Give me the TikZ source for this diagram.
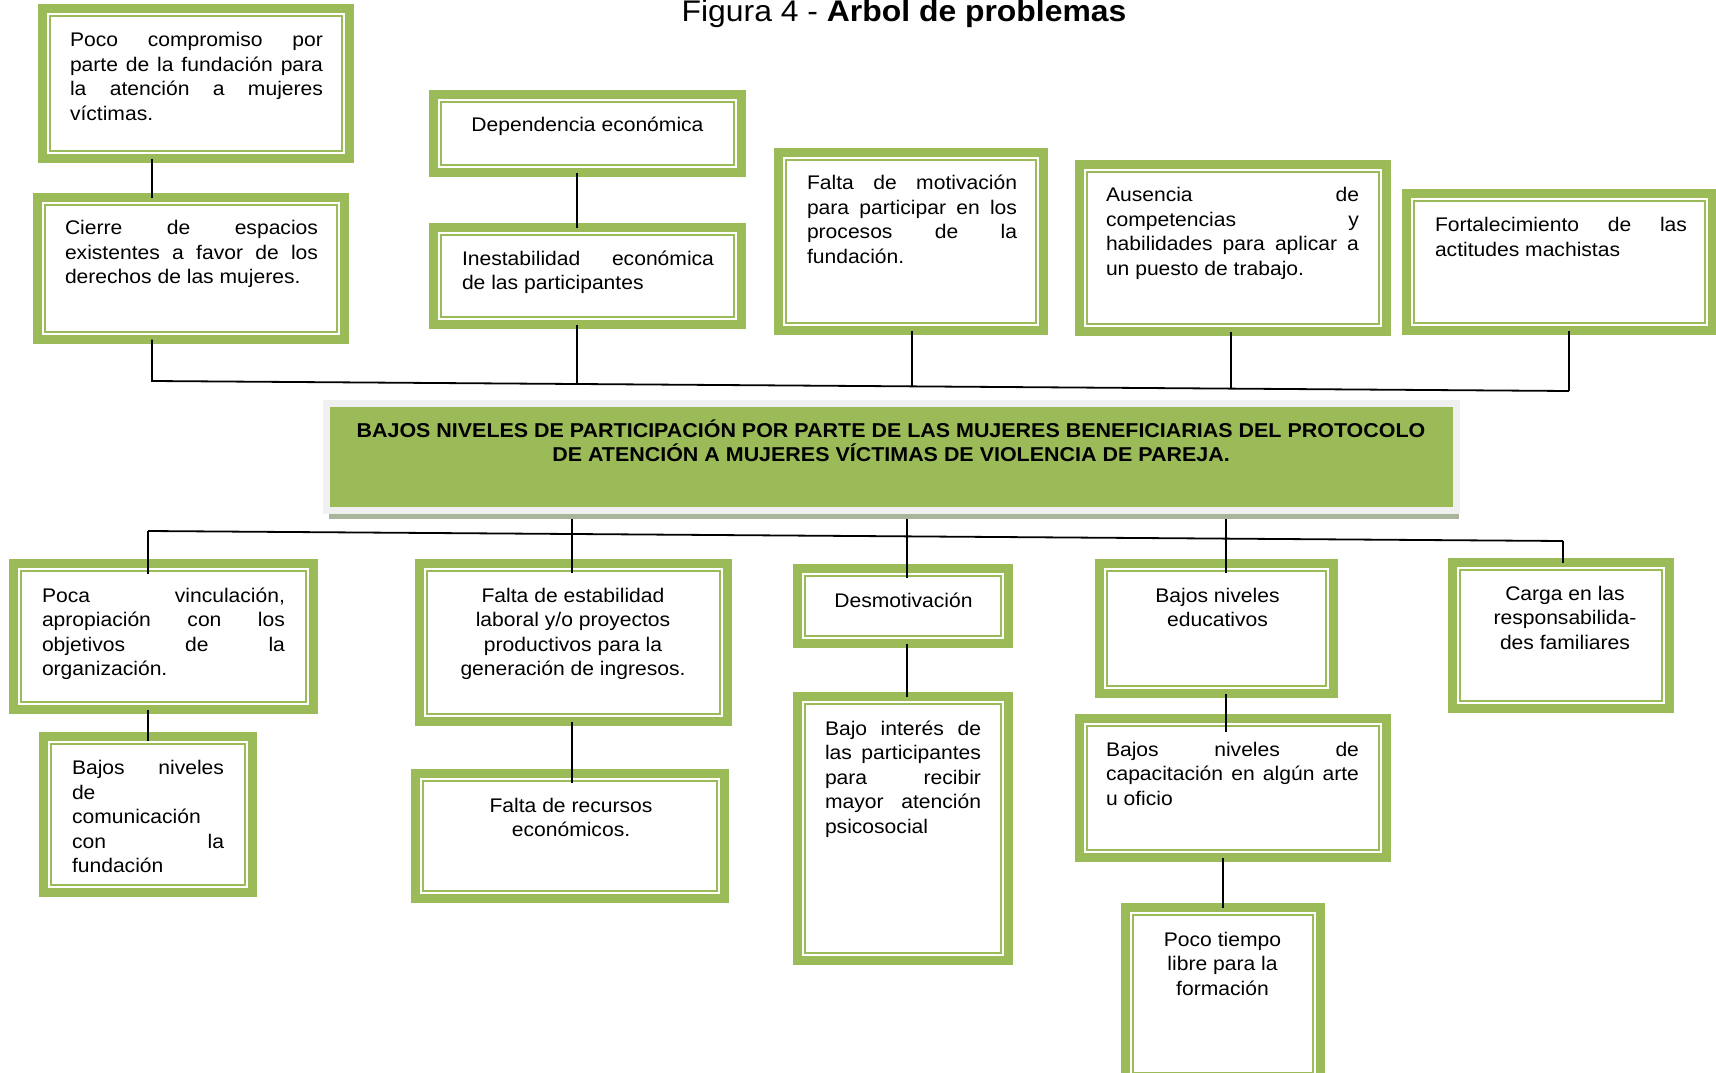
\documentclass[tikz,border=0pt]{standalone}
\usepackage{fontspec}
\setmainfont{Liberation Sans}[FakeStretch=1.07]
\usetikzlibrary{calc,shadows}
\definecolor{leaf}{HTML}{9BBB59}
\definecolor{frameg}{HTML}{F0F0F0}
\definecolor{shade}{HTML}{A9B49B}
\newcommand\J[2]{\makebox[#1pt][s]{#2}}
\newcommand\fl{\rule{0pt}{15pt}}
\newcommand\gbox[5]{%
  \node[gbox, minimum width={#4-#2-9}, minimum height={#5-#3-9}, anchor=north west] (#1) at ({#2+4.5},{#3+4.5}) {};
  \draw[gthin] ([shift={(7.5,7.5)}]#1.north west) rectangle ([shift={(-7.5,-7.5)}]#1.south east);
}
\tikzset{
  gbox/.style={draw=leaf, line width=9pt, inner sep=0pt, outer sep=0pt, fill=white},
  gthin/.style={draw=leaf, line width=2pt},
  core/.style={fill=leaf, draw=frameg, line width=7pt, inner sep=0pt, outer sep=0pt,
    minimum width=1130, minimum height=107,
    drop shadow={shadow xshift=2pt, shadow yshift=-8pt, fill=shade, opacity=1}},
  txt/.style={inner sep=0pt, outer sep=0pt, align=left, anchor=north west,
    font=\fontsize{19.7}{24.6}\selectfont},
  ctxt/.style={inner sep=0pt, outer sep=0pt, align=center, anchor=north,
    font=\fontsize{19.7}{24.6}\selectfont},
  conn/.style={draw=black, line width=1.8pt},
}
\begin{document}
\begin{tikzpicture}[x=1pt, y=-1pt]
\useasboundingbox (0,0) rectangle (1716,1073);

% title
\node[anchor=base, inner sep=0pt] (title) at (904,22)
  {\fontsize{29.8}{34}\selectfont Figura 4 - \textbf{Árbol de problemas}};

% upper boxes
\gbox{b1}{38}{4}{354}{163}
\gbox{b2}{33}{193}{349}{344}
\gbox{b3}{429}{90}{746}{177}
\gbox{b4}{429}{223}{746}{329}
\gbox{b5}{774}{148}{1048}{335}
\gbox{b6}{1075}{160}{1391}{336}
\gbox{b7}{1402}{189}{1717}{335}

% core problem
\node[core] (core) at (891.5,457) {};
\node[ctxt, font=\fontsize{20.05}{24.5}\bfseries] (coretxt) at (891,419.5)
  {\fl BAJOS NIVELES DE PARTICIPACIÓN POR PARTE DE LAS MUJERES BENEFICIARIAS DEL PROTOCOLO\\
   DE ATENCIÓN A MUJERES VÍCTIMAS DE VIOLENCIA DE PAREJA.};

% lower boxes
\gbox{b8}{9}{559}{318}{714}
\gbox{b9}{39}{732}{257}{897}
\gbox{b10}{415}{559}{732}{726}
\gbox{b11}{411}{769}{729}{903}
\gbox{b12}{793}{564}{1013}{648}
\gbox{b13}{793}{692}{1013}{965}
\gbox{b14}{1095}{559}{1338}{698}
\gbox{b15}{1075}{714}{1391}{862}
\gbox{b16}{1121}{903}{1325}{1085}
\gbox{b17}{1448}{558}{1674}{713}

% texts
\node[txt] (t1) at (70,31.5) {\fl\J{253}{Poco compromiso por}\\\J{253}{parte de la fundación para}\\\J{253}{la atención a mujeres}\\víctimas.};
\node[txt] (t2) at (65,219.5) {\fl\J{253}{Cierre de espacios}\\\J{253}{existentes a favor de los}\\derechos de las mujeres.};
\node[ctxt] (t3) at (587.5,116) {\fl Dependencia económica};
\node[txt] (t4) at (462,250) {\fl\J{252}{Inestabilidad económica}\\de las participantes};
\node[txt] (t5) at (807,174.5) {\fl\J{210}{Falta de motivación}\\\J{210}{para participar en los}\\\J{210}{procesos de la}\\fundación.};
\node[txt] (t6) at (1106,186.5) {\fl\J{253}{Ausencia de}\\\J{253}{competencias y}\\\J{253}{habilidades para aplicar a}\\un puesto de trabajo.};
\node[txt] (t7) at (1435,216.5) {\fl\J{252}{Fortalecimiento de las}\\actitudes machistas};

\node[txt] (t8) at (42,587) {\fl\J{243}{Poca vinculación,}\\\J{243}{apropiación con los}\\\J{243}{objetivos de la}\\organización.};
\node[txt] (t9) at (72,759.5) {\fl\J{152}{Bajos niveles}\\de\\comunicación\\\J{152}{con la}\\fundación};
\node[ctxt] (t10) at (573,587) {\fl Falta de estabilidad\\laboral y/o proyectos\\productivos para la\\generación de ingresos.};
\node[ctxt] (t11) at (571,797) {\fl Falta de recursos\\económicos.};
\node[ctxt] (t12) at (903.5,592) {\fl Desmotivación};
\node[txt] (t13) at (825,720) {\fl\J{156}{Bajo interés de}\\\J{156}{las participantes}\\\J{156}{para recibir}\\\J{156}{mayor atención}\\psicosocial};
\node[ctxt] (t14) at (1217.5,587) {\fl Bajos niveles\\educativos};
\node[txt] (t15) at (1106,741) {\fl\J{253}{Bajos niveles de}\\\J{253}{capacitación en algún arte}\\u oficio};
\node[ctxt] (t16) at (1222.5,931) {\fl Poco tiempo\\libre para la\\formación};
\node[ctxt] (t17) at (1565,585) {\fl Carga en las\\responsabilida-\\des familiares};

% bus coordinates
\coordinate (busL) at (152,381);
\coordinate (busR) at (1569,391);
\coordinate (j4) at (577,384);
\coordinate (j5) at (912,386.4);
\coordinate (j6) at (1231,388.6);
\coordinate (lbL) at (148,531);
\coordinate (lbR) at (1563,541);
\coordinate (k10) at (572,534);
\coordinate (k12) at (907,536.4);
\coordinate (k14) at (1226,538.6);

% upper connectors
\draw[conn] (b1.south -| busL) -- (b2.north -| busL);
\draw[conn] (b2.south -| busL) -- (busL) -- (busR);
\draw[conn] (b3.south -| j4) -- (b4.north -| j4);
\draw[conn] (b4.south -| j4) -- (j4);
\draw[conn] (b5.south -| j5) -- (j5);
\draw[conn] (b6.south -| j6) -- (j6);
\draw[conn] (b7.south -| busR) -- (busR);

% lower connectors
\draw[conn] (lbL) -- (lbR);
\draw[conn, shorten >=-10pt] (lbL) -- (b8.north -| lbL);
\draw[conn] (lbR) -- (b17.north -| lbR);
\draw[conn, shorten <=8.5pt, shorten >=-9pt] (core.south -| k10) -- (b10.north -| k10);
\draw[conn, shorten <=8.5pt, shorten >=-9pt] (core.south -| k12) -- (b12.north -| k12);
\draw[conn, shorten <=8.5pt, shorten >=-9pt] (core.south -| k14) -- (b14.north -| k14);
\draw[conn, shorten >=-4pt] (b8.south -| lbL) -- (b9.north -| lbL);
\draw[conn, shorten >=-9pt] (b10.south -| k10) -- (b11.north -| k10);
\draw[conn] (b12.south -| k12) -- (b13.north -| k12);
\draw[conn, shorten >=-13pt] (b14.south -| k14) -- (b15.north -| k14);
\draw[conn] (b15.south -| b16.north) -- (b16.north);
\end{tikzpicture}
\end{document}
